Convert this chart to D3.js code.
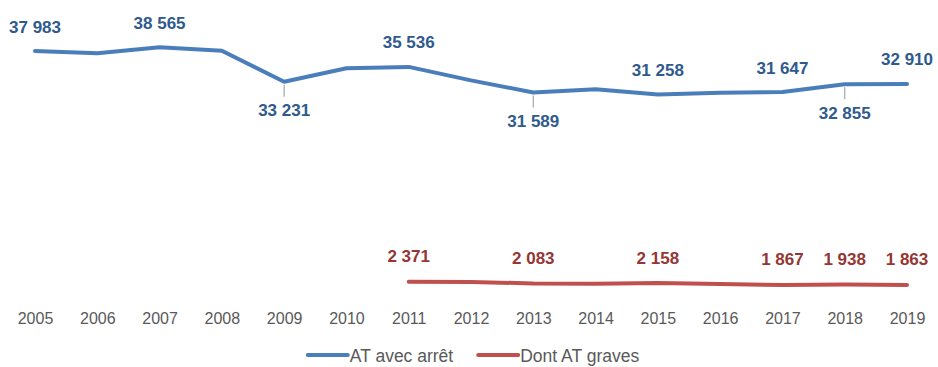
<!DOCTYPE html>
<html>
<head>
<meta charset="utf-8">
<script src="https://cdn.jsdelivr.net/npm/d3@7/dist/d3.min.js"></script>
<style>
  html, body { margin: 0; padding: 0; background: #ffffff; }
  svg { display: block; }
</style>
</head>
<body>
<svg id="chart" width="938" height="367"></svg>
<script>
// Accidents du travail per year
const years = ["2005","2006","2007","2008","2009","2010","2011","2012","2013","2014","2015","2016","2017","2018","2019"];
const atAvecArret = [37983, 37640, 38565, 38040, 33231, 35320, 35536, 33450, 31589, 32080, 31258, 31550, 31647, 32855, 32910];
const atGravesYears = ["2011","2012","2013","2014","2015","2016","2017","2018","2019"];
const atGraves = [2371, 2330, 2083, 2050, 2158, 1990, 1867, 1938, 1863];

// Which points carry a value label, and on which side of the line
const blueLabelYears = ["2005","2007","2009","2011","2013","2015","2017","2018","2019"];
const blueLabelSide  = ["above","above","below","above","below","above","above","below","above"];
const redLabelYears  = ["2011","2013","2015","2017","2018","2019"];

const seriesNames = ["AT avec arrêt", "Dont AT graves"];
const seriesColors = ["#4a7ebb", "#c0504d"];
const labelColors = ["#2f5a8c", "#943634"];

const svg = d3.select("#chart");
const font = "'Liberation Sans', Arial, sans-serif";

const x = d3.scalePoint().domain(years).range([35, 907]);
const y = d3.scaleLinear().domain([0, 40000]).range([297, 38]);

// Category axis (labels only)
const xAxis = d3.axisBottom(x).tickSize(0).tickPadding(0);
const gx = svg.append("g").attr("transform", "translate(0,318)").call(xAxis);
gx.select(".domain").remove();
gx.selectAll("text")
  .attr("dy", null)
  .attr("y", 0)
  .attr("dominant-baseline", "central")
  .style("font-family", font)
  .style("font-size", "16px")
  .style("fill", "#595959");

const line = d3.line().x(d => x(d.year)).y(d => y(d.value));

const blueData = years.map((yr, i) => ({ year: yr, value: atAvecArret[i] }));
const redData = atGravesYears.map((yr, i) => ({ year: yr, value: atGraves[i] }));

svg.append("path")
  .datum(blueData)
  .attr("d", line)
  .attr("fill", "none")
  .attr("stroke", seriesColors[0])
  .attr("stroke-width", 4)
  .attr("stroke-linejoin", "round")
  .attr("stroke-linecap", "round");

svg.append("path")
  .datum(redData)
  .attr("d", line)
  .attr("fill", "none")
  .attr("stroke", seriesColors[1])
  .attr("stroke-width", 4)
  .attr("stroke-linejoin", "round")
  .attr("stroke-linecap", "round");

const fmt = v => d3.format(",")(v).replace(/,/g, " ");

// Blue value labels, with leader lines for those placed below
blueLabelYears.forEach((yr, k) => {
  const v = atAvecArret[years.indexOf(yr)];
  const px = x(yr), py = y(v);
  const below = blueLabelSide[k] === "below";
  if (below) {
    svg.append("line")
      .attr("x1", px).attr("x2", px)
      .attr("y1", py + 3).attr("y2", py + 15)
      .attr("stroke", "#a6a6a6")
      .attr("stroke-width", 1.2);
  }
  svg.append("text")
    .attr("x", px)
    .attr("y", below ? py + 29 : py - 24)
    .attr("text-anchor", "middle")
    .attr("dominant-baseline", "central")
    .style("font-family", font)
    .style("font-weight", "bold")
    .style("font-size", "17px")
    .style("fill", labelColors[0])
    .text(fmt(v));
});

// Red value labels
redLabelYears.forEach(yr => {
  const v = atGraves[atGravesYears.indexOf(yr)];
  svg.append("text")
    .attr("x", x(yr))
    .attr("y", y(v) - 25)
    .attr("text-anchor", "middle")
    .attr("dominant-baseline", "central")
    .style("font-family", font)
    .style("font-weight", "bold")
    .style("font-size", "17px")
    .style("fill", labelColors[1])
    .text(fmt(v));
});

// Legend
const legend = svg.append("g");
let cx = 0;
seriesNames.forEach((name, i) => {
  const sw = 40;
  legend.append("line")
    .attr("x1", cx).attr("x2", cx + sw)
    .attr("y1", -1).attr("y2", -1)
    .attr("stroke", seriesColors[i])
    .attr("stroke-width", 4)
    .attr("stroke-linecap", "round");
  const t = legend.append("text")
    .attr("x", cx + sw + 2)
    .attr("y", 0)
    .attr("dominant-baseline", "central")
    .style("font-family", font)
    .style("font-size", "17.5px")
    .style("fill", "#595959")
    .text(name);
  cx += sw + 2 + t.node().getComputedTextLength() + 25;
});
const legendWidth = cx - 25;
legend.attr("transform", `translate(${473.5 - legendWidth / 2},356)`);
</script>
</body>
</html>
